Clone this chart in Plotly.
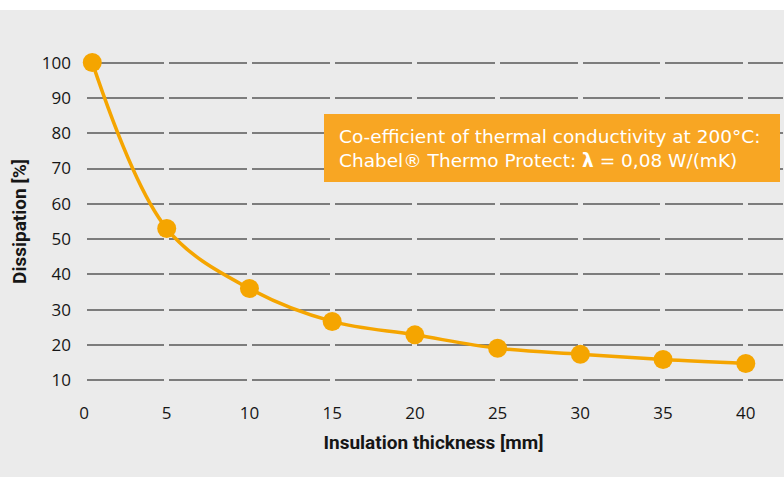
import plotly.graph_objects as go

# Data
thickness_mm = [0.5, 5, 10, 15, 20, 25, 30, 35, 40]
dissipation_pct = [100, 53, 36, 26.7, 22.9, 19.1, 17.4, 15.9, 14.8]
x_ticks = [0, 5, 10, 15, 20, 25, 30, 35, 40]
y_ticks = [10, 20, 30, 40, 50, 60, 70, 80, 90, 100]
note_line1 = "Co-efficient of thermal conductivity at 200°C:"
note_line2 = "Chabel® Thermo Protect: <b>λ</b> = 0,08 W/(mK)"

ORANGE = "#F5A500"
BOX = "#F8A623"
BG = "#EBEBEB"
GRID = "#7C7C7C"

fig = go.Figure()
fig.add_trace(go.Scatter(
    x=thickness_mm, y=dissipation_pct,
    mode="lines+markers",
    line=dict(color=ORANGE, width=3.5, shape="spline", smoothing=1.0),
    marker=dict(color=ORANGE, size=19),
    cliponaxis=False,
    hoverinfo="x+y",
))

W, H = 784, 477
L, R, T, B = 84, 1, 52, 86

fig.update_layout(
    width=W, height=H,
    margin=dict(l=L, r=R, t=T, b=B),
    paper_bgcolor=BG, plot_bgcolor=BG,
    showlegend=False,
    font=dict(family="Open Sans, Noto Sans, sans-serif", color="#161616"),
    xaxis=dict(
        range=[0, 42.25], tickvals=x_ticks, showgrid=False, zeroline=False,
        showline=False, ticks="", ticklabelstandoff=10,
        tickfont=dict(size=17, color="#161616"),
        title=dict(text="<b>Insulation thickness [mm]</b>", standoff=12,
                   font=dict(size=19, family="Roboto, sans-serif", color="#161616")),
    ),
    yaxis=dict(
        range=[7, 103], tickvals=y_ticks, zeroline=False, showline=False,
        showgrid=True, gridcolor=GRID, gridwidth=2,
        griddash="0px,2.5px,77.7px,2.5px",
        ticks="", ticklabelstandoff=12,
        tickfont=dict(size=17, color="#161616"),
        title=dict(text="<b>Dissipation [%]</b>", standoff=10,
                   font=dict(size=19, family="Roboto, sans-serif", color="#161616")),
    ),
)

plot_h = H - T - B
plot_w = W - L - R
def py(px):
    return 1 - (px - T) / plot_h
def pxx(px):
    return (px - L) / plot_w

# white strip on top of the page
fig.add_shape(type="rect", xref="paper", yref="paper",
              x0=pxx(-10), x1=pxx(W + 10), y0=py(10), y1=py(-10),
              fillcolor="white", line=dict(width=0), layer="below")

# note box
fig.add_shape(type="rect", xref="paper", yref="paper",
              x0=pxx(324), x1=pxx(780), y0=py(182), y1=py(114),
              fillcolor=BOX, line=dict(width=0), layer="above")
fig.add_annotation(xref="paper", yref="paper", x=pxx(337), y=py(136),
                   xanchor="left", yanchor="middle", showarrow=False,
                   text=note_line1, font=dict(size=18.5, color="white",
                   family="DejaVu Sans, sans-serif"))
fig.add_annotation(xref="paper", yref="paper", x=pxx(337), y=py(160),
                   xanchor="left", yanchor="middle", showarrow=False,
                   text=note_line2, font=dict(size=18.5, color="white",
                   family="DejaVu Sans, sans-serif"))

fig.write_html("out.html", config={"displayModeBar": False},
               post_script="document.body.style.margin='0';document.body.style.overflow='hidden';")
